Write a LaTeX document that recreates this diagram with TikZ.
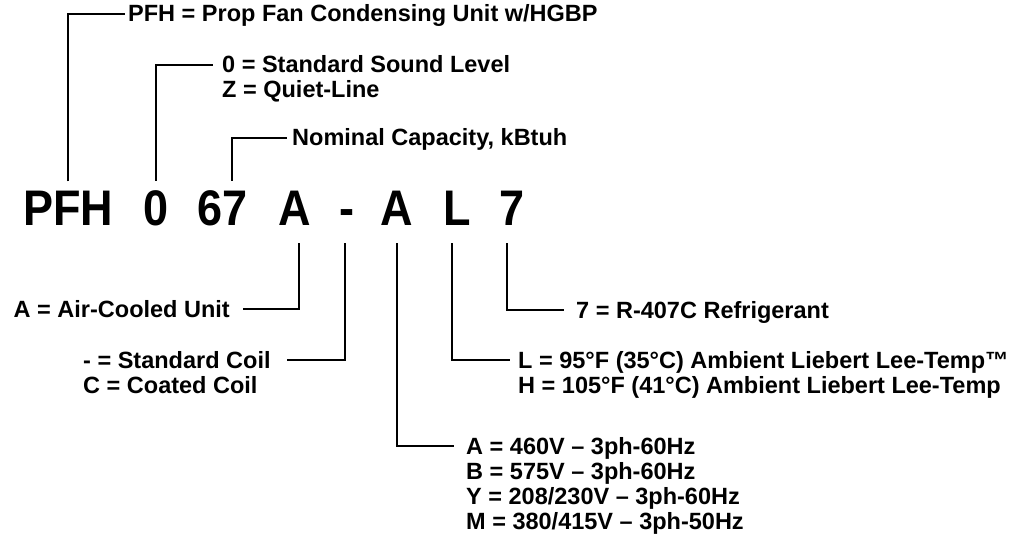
\documentclass[tikz,border=0pt]{standalone}
\usepackage{fontspec}
\setmainfont{Liberation Sans}
\newfontfamily\bigfont[FakeStretch=0.9]{Liberation Sans}
\begin{document}
\begin{tikzpicture}[x=1pt,y=-1pt,
  big/.style={font=\bigfont\bfseries\fontsize{50}{50}\selectfont, inner sep=0pt, anchor=base},
  lbl/.style={font=\bfseries\fontsize{23.5}{25}\selectfont, inner sep=0pt, anchor=base west},
  lblr/.style={lbl, anchor=base east},
  conn/.style={line width=2.8pt}]
\fill[white] (0,0) rectangle (1024,540);
\useasboundingbox (0,0) rectangle (1024,540);
% code letters
\node[big] (c1) at (68,225) {PFH};
\node[big] (c2) at (156,225) {0};
\node[big] (c3) at (223,225) {67};
\node[big] (c4) at (295,225) {A};
\node[big] (c5) at (347,225) {-};
\node[big] (c6) at (397,225) {A};
\node[big] (c7) at (457,225) {L};
\node[big] (c8) at (512,225) {7};
% labels
\node[lbl] (l1) at (128,22) {PFH = Prop Fan Condensing Unit w/HGBP};
\node[lbl] (l2a) at (222,73) {0 = Standard Sound Level};
\node[lbl] (l2b) at (222,98) {Z = Quiet-Line};
\node[lbl] (l3) at (292,146) {Nominal Capacity, kBtuh};
\node[lblr] (l4) at (230,317) {A = Air-Cooled Unit};
\node[lbl] (l5a) at (83,368) {- = Standard Coil};
\node[lbl] (l5b) at (83,393) {C = Coated Coil};
\node[lbl] (l6a) at (466,454) {A = 460V – 3ph-60Hz};
\node[lbl] (l6b) at (466,479) {B = 575V – 3ph-60Hz};
\node[lbl] (l6c) at (466,504) {Y = 208/230V – 3ph-60Hz};
\node[lbl] (l6d) at (466,529) {M = 380/415V – 3ph-50Hz};
\node[lbl] (l7a) at (518,368) {L = 95°F (35°C) Ambient Liebert Lee-Temp™};
\node[lbl] (l7b) at (518,393) {H = 105°F (41°C) Ambient Liebert Lee-Temp};
\node[lbl] (l8) at (576,318) {7 = R-407C Refrigerant};
% connector ends
\coordinate (e1) at (125,14);
\coordinate (e2) at (213,65);
\coordinate (e3) at (287,138);
\coordinate (e4) at (243,309);
\coordinate (e5) at (287,360);
\coordinate (e6) at (454,446);
\coordinate (e7) at (510,360);
\coordinate (e8) at (564,310);
% connectors
\draw[conn] ([yshift=9pt]c1.north) |- (e1);
\draw[conn] ([yshift=9pt]c2.north) |- (e2);
\draw[conn] ([xshift=9pt,yshift=9pt]c3.north) |- (e3);
\draw[conn] ([xshift=4pt,yshift=-18pt]c4.south) |- (e4);
\draw[conn] ([xshift=-2pt,yshift=-18pt]c5.south) |- (e5);
\draw[conn] ([yshift=-18pt]c6.south) |- (e6);
\draw[conn] ([xshift=-5pt,yshift=-18pt]c7.south) |- (e7);
\draw[conn] ([xshift=-5pt,yshift=-18pt]c8.south) |- (e8);
\end{tikzpicture}
\end{document}
